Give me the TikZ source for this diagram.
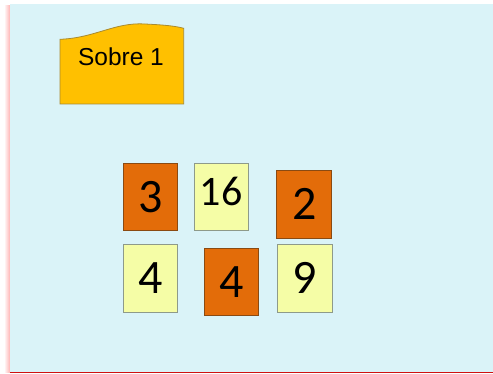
\documentclass[tikz,border=0pt]{standalone}
\usepackage{fontspec}
\setmainfont{Liberation Sans}
\newfontfamily\cardfont{Carlito}
\definecolor{bgc}{HTML}{DAF3F8}
\definecolor{orangec}{HTML}{E36C09}
\definecolor{orangeb}{HTML}{8A4A12}
\definecolor{yellowc}{HTML}{F5FDA6}
\definecolor{yellowb}{HTML}{8E9A8A}
\definecolor{sobrec}{HTML}{FFC000}
\definecolor{sobreb}{HTML}{A88A30}
\definecolor{redline}{HTML}{D01010}
\begin{document}
\begin{tikzpicture}[x=1pt,y=-1pt,
  cardo/.style={draw=orangeb,fill=orangec,line width=0.8pt},
  cardy/.style={draw=yellowb,fill=yellowc,line width=0.8pt},
  num/.style={inner sep=0pt,font=\cardfont\fontsize{48}{48}\selectfont},
  numsm/.style={inner sep=0pt,font=\cardfont\fontsize{42}{42}\selectfont}]
\useasboundingbox (0,0) rectangle (493,374);
\fill[white] (0,0) rectangle (493,374);
% left shadow
\shade[left color=white,right color=red!30] (4,6) rectangle (10,372);
% background
\fill[bgc] (10,4) rectangle (493,372);
\draw[redline,line width=1.2pt] (10,372.6) -- (493,372.6);
% Sobre shape
\draw[sobreb,fill=sobrec,line width=0.8pt] (60,104) -- (60,39.3)
  .. controls (95,38) and (115,22) .. (145,24)
  .. controls (165,25) and (175,26) .. (183.7,28.3) -- (183.7,104) -- cycle;
\node[inner sep=0pt,font=\fontsize{24.5}{24.5}\selectfont] (sobre) at (121,57) {Sobre 1};
% cards
\draw[cardo] (123.3,163.3) rectangle (177.7,230.7);
\node[num] (c3) at (150.5,196.7) {3};
\draw[cardy] (194,163.3) rectangle (248,230.7);
\node[numsm] (c16) at (221,191.7) {16};
\draw[cardo] (276.7,170.7) rectangle (331.7,238);
\node[num] (c2) at (304.2,204.3) {2};
\draw[cardy] (123.3,244.3) rectangle (177.7,312.3);
\node[num] (c4a) at (150.5,278) {4};
\draw[cardo] (204,248.3) rectangle (258.7,315.7);
\node[num] (c4b) at (231.3,282.5) {4};
\draw[cardy] (277.7,244.3) rectangle (332.3,312.3);
\node[num] (c9) at (305,278) {9};
\end{tikzpicture}
\end{document}
